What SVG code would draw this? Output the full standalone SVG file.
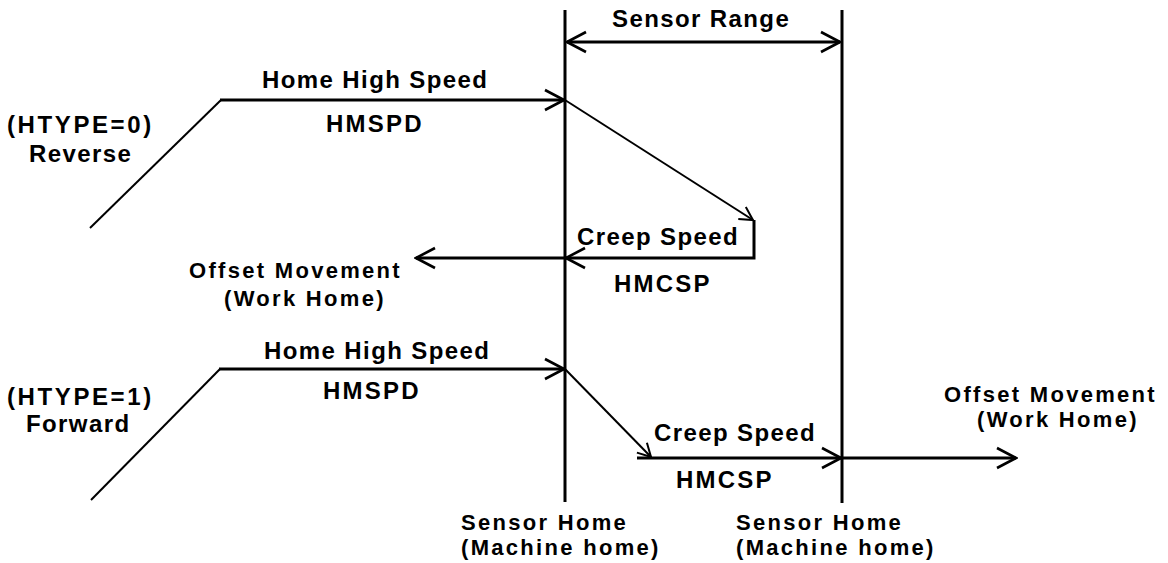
<svg xmlns="http://www.w3.org/2000/svg" width="1168" height="563" viewBox="0 0 1168 563">
  <style>
    text { font-family: "Liberation Sans", Arial, sans-serif; font-weight: bold; font-size: 24px; fill: #000; letter-spacing: 1.4px; }
    .caps { letter-spacing: 2.2px; }
    .wide { letter-spacing: 2.6px; }
    .stack { font-size: 22px; letter-spacing: 2.3px; }
    .thick { fill: none; stroke: #000; stroke-width: 3; }
    .thin { fill: none; stroke: #000; stroke-width: 2; }
  </style>
  <defs>
    <marker id="arrow" viewBox="-22 -12 24 24" refX="0" refY="0" markerWidth="24" markerHeight="24" markerUnits="userSpaceOnUse" orient="auto-start-reverse">
      <path d="M-19,-10 L0,0 L-19,10" fill="none" stroke="#000" stroke-width="2.6"/>
    </marker>
    <marker id="arrow-small" viewBox="-16 -9 18 18" refX="0" refY="0" markerWidth="18" markerHeight="18" markerUnits="userSpaceOnUse" orient="auto">
      <path d="M-13,-7 L0,0 L-13,7" fill="none" stroke="#000" stroke-width="2"/>
    </marker>
  </defs>
  <rect width="1168" height="563" fill="#fff"/>

  <g id="connectors">
    <!-- sensor boundaries -->
    <path class="thick" d="M565,10 V502"/>
    <path class="thick" d="M842,10 V503"/>
    <!-- sensor range dimension -->
    <path class="thick" d="M567,42 H840" marker-start="url(#arrow)" marker-end="url(#arrow)"/>

    <!-- HTYPE=0 (reverse) profile -->
    <path class="thin" d="M90,228 L221,100"/>
    <path class="thick" d="M220,100 H564" marker-end="url(#arrow)"/>
    <path class="thin" d="M565,100 L753,220" marker-end="url(#arrow-small)"/>
    <path class="thick" d="M754,220 V258 H566" marker-end="url(#arrow)"/>
    <path class="thick" d="M565,258 H416" marker-end="url(#arrow)"/>

    <!-- HTYPE=1 (forward) profile -->
    <path class="thin" d="M91,500 L220,369"/>
    <path class="thick" d="M219,369 H564" marker-end="url(#arrow)"/>
    <path class="thin" d="M565,369 L651,457" marker-end="url(#arrow-small)"/>
    <path class="thick" d="M637,458 H841" marker-end="url(#arrow)"/>
    <path class="thick" d="M842,458 H1016" marker-end="url(#arrow)"/>
  </g>

  <g id="sensor-range-label">
    <text x="612" y="27">Sensor Range</text>
  </g>

  <g id="reverse-type">
    <text class="wide" x="7" y="133">(HTYPE=0)</text>
    <text x="29" y="162">Reverse</text>
  </g>
  <g id="reverse-high-speed">
    <text x="262" y="88">Home High Speed</text>
    <text class="caps" x="326" y="132">HMSPD</text>
  </g>
  <g id="reverse-creep-speed">
    <text x="577" y="245">Creep Speed</text>
    <text class="caps" x="614" y="292">HMCSP</text>
  </g>
  <g id="reverse-offset">
    <text class="stack" x="189" y="278">Offset Movement</text>
    <text class="stack" x="224" y="306">(Work Home)</text>
  </g>

  <g id="forward-type">
    <text class="wide" x="7" y="405">(HTYPE=1)</text>
    <text x="26" y="432">Forward</text>
  </g>
  <g id="forward-high-speed">
    <text x="264" y="359">Home High Speed</text>
    <text class="caps" x="323" y="399">HMSPD</text>
  </g>
  <g id="forward-creep-speed">
    <text x="654" y="441">Creep Speed</text>
    <text class="caps" x="676" y="488">HMCSP</text>
  </g>
  <g id="forward-offset">
    <text class="stack" x="944" y="402">Offset Movement</text>
    <text class="stack" x="977" y="427">(Work Home)</text>
  </g>

  <g id="sensor-home-left">
    <text class="stack" x="461" y="530">Sensor Home</text>
    <text class="stack" x="461" y="555">(Machine home)</text>
  </g>
  <g id="sensor-home-right">
    <text class="stack" x="736" y="530">Sensor Home</text>
    <text class="stack" x="736" y="555">(Machine home)</text>
  </g>
</svg>
